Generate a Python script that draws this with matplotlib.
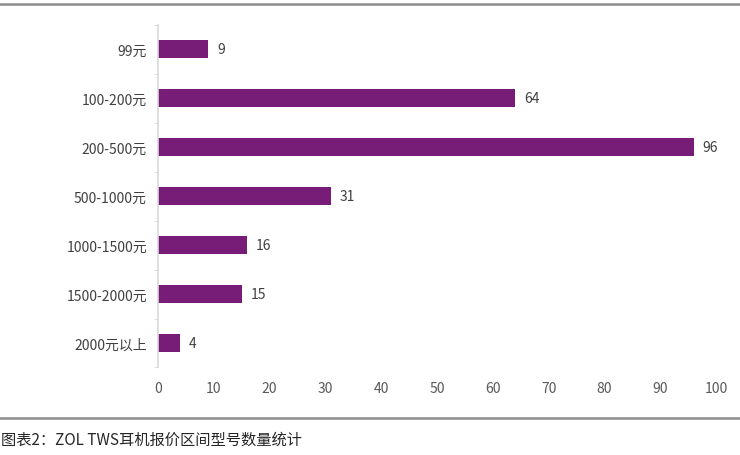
import matplotlib
matplotlib.use("Agg")
import matplotlib.pyplot as plt
from matplotlib.lines import Line2D

plt.rcParams['font.family'] = ['Noto Sans CJK SC', 'DejaVu Sans']

categories = ["99元", "100-200元", "200-500元", "500-1000元", "1000-1500元", "1500-2000元", "2000元以上"]
values = [9, 64, 96, 31, 16, 15, 4]
xticks = [0, 10, 20, 30, 40, 50, 60, 70, 80, 90, 100]
caption = "图表2：ZOL TWS耳机报价区间型号数量统计"

W, H = 740, 456
fig = plt.figure(figsize=(W/100, H/100), dpi=100)
ax = fig.add_axes([158/W, (H-368.5)/H, (716-158)/W, (368.5-25.5)/H])

y = list(range(len(categories)))
ax.barh(y, values, height=0.35, color="#771C77")
ax.set_ylim(len(categories)-0.5, -0.5)
ax.set_xlim(0, 100)
ax.set_yticks(y)
ax.set_yticklabels(categories)
ax.set_xticks(xticks)
ax.set_xticklabels([str(t) for t in xticks])

for yi, v in zip(y, values):
    ax.text(v + 1.6, yi, str(v), va="center", ha="left", fontsize=10, color="#404040")

for s in ["top", "right", "bottom"]:
    ax.spines[s].set_visible(False)
ax.spines["left"].set_color("#D9D9D9")
ax.spines["left"].set_linewidth(1.2)
ax.tick_params(axis="y", length=3, color="#D9D9D9", labelsize=10, labelcolor="#404040", pad=8)
ax.tick_params(axis="x", length=0, labelsize=10, labelcolor="#595959", pad=10)
ax.set_yticks([i + 0.5 for i in range(-1, len(categories))], minor=True)
ax.tick_params(axis="y", which="minor", length=3, color="#D9D9D9")
ax.tick_params(axis="y", which="major", length=0)

fig.add_artist(Line2D([0, 1], [(H-4.5)/H]*2, color="#8C8C8C", lw=1.8, transform=fig.transFigure))
fig.add_artist(Line2D([0, 1], [(H-418.5)/H]*2, color="#8C8C8C", lw=1.8, transform=fig.transFigure))
fig.text(1/W, (H-440)/H, caption, fontsize=11, color="#262626", ha="left", va="center")

fig.savefig("out.png", dpi=100)
